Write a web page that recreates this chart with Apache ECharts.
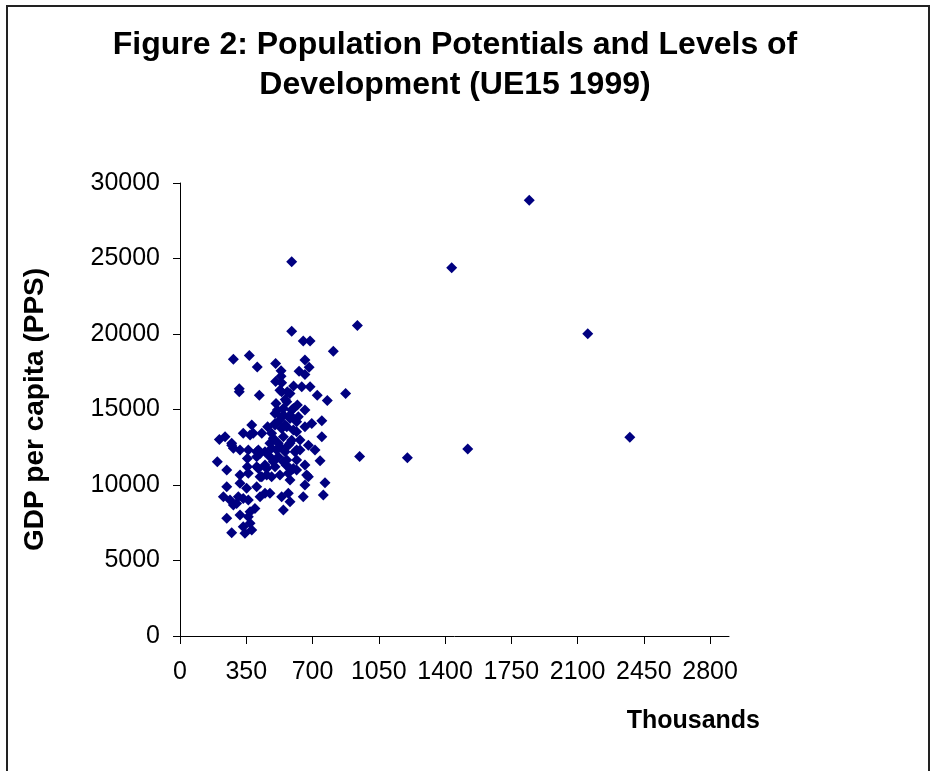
<!DOCTYPE html>
<html>
<head>
<meta charset="utf-8">
<script src="https://cdn.jsdelivr.net/npm/echarts@6/dist/echarts.min.js"></script>
<style>
html,body{margin:0;padding:0;background:#fff;}
#chart{width:936px;height:771px;}
</style>
</head>
<body>
<div id="chart"></div>
<script>
// Population potential (thousands)
var potential = [
1845,1435,590,937,2154,590,651,687,810,282,
366,408,505,660,682,534,629,534,660,505,
537,600,643,687,313,313,875,419,725,581,
778,556,2376,1520,1201,949,537,507,564,620,
660,514,537,581,616,660,696,749,379,463,
502,564,599,432,334,370,238,208,749,475,
519,581,634,678,273,282,361,414,511,555,
616,713,317,197,247,356,423,356,405,449,
493,546,581,616,660,740,317,361,423,458,
528,581,678,660,766,247,317,352,405,229,
308,299,361,423,475,537,572,581,651,757,
546,247,317,361,370,334,273,343,282,264,
396,528,567,599,502,546,581,625,502,537,
387,484,273,405,484,528,572,607,519,564,
599,405,449,414,458,502,432,484,572,449,
334,370,379,669,546,590,528,555,616,493,
546,590,634,560,616,475
];
// GDP per capita (PPS)
var gdp = [
28860,24380,24780,20570,20010,20190,19530,19530,18850,18320,
18580,17810,18050,18270,17790,17560,17540,17210,17320,16860,
16770,16550,16500,16500,16380,16170,16060,15950,15950,16060,
15600,15670,13170,12380,11800,11890,16170,15400,15510,15290,
14960,14960,14520,14630,14190,13860,14080,14250,13970,13860,
14080,13860,13640,13420,13420,13310,13190,13020,13190,12760,
12760,12760,12980,12640,12760,12430,12310,12310,12310,12200,
12310,12310,12310,11540,10990,11760,12090,11210,11210,11320,
11540,11540,11100,10990,11320,11600,10660,10770,10550,10660,
10660,10330,10550,10000,10150,9880,10110,9780,9880,9220,
9220,8780,9000,9220,9450,9220,9450,8890,9220,9330,
8340,7790,8010,7900,7460,7240,6840,6800,8670,9000,
8450,16280,16170,15070,14740,14630,14410,14520,13970,13750,
13420,13420,12640,12200,12430,12530,12640,12200,11870,11650,
11100,11870,12200,11100,11100,11210,10550,10550,10770,9450,
9110,8230,7020,10660,15070,14960,14300,13970,13530,13090,
13200,12970,12310,11320,11650,11870
];
var xTicks = [0,350,700,1050,1400,1750,2100,2450,2800];
var yTicks = [0,5000,10000,15000,20000,25000,30000];

var points = potential.map(function(v,i){ return [v, gdp[i]]; });

var chart = echarts.init(document.getElementById('chart'), null, {renderer:'canvas'});
var FONT = 'Liberation Sans, Arial, sans-serif';
chart.setOption({
  backgroundColor:'#ffffff',
  animation:false,
  title:{
    text:'Figure 2: Population Potentials and Levels of\nDevelopment (UE15 1999)',
    left:450, top:20, textAlign:'center',
    textStyle:{fontFamily:FONT, fontSize:32, fontWeight:'bold', color:'#000', lineHeight:40}
  },
  graphic:[{
    type:'rect', shape:{x:7,y:6,width:922,height:800},
    style:{fill:'none', stroke:'#222', lineWidth:2}, silent:true
  }],
  grid:{left:180, top:183, width:549, height:453, containLabel:false, outerBoundsMode:'none'},
  xAxis:{
    type:'value', min:0, max:2900, interval:350,
    name:'Thousands', nameLocation:'end', nameGap:31,
    nameTextStyle:{fontFamily:FONT, fontSize:25, fontWeight:'bold', color:'#000', align:'right', verticalAlign:'top', padding:[73,0,0,0]},
    axisLine:{show:true, onZero:false, lineStyle:{color:'#000', width:1}},
    axisTick:{show:true, inside:false, length:8, lineStyle:{color:'#000'}, customValues:xTicks},
    axisLabel:{fontFamily:FONT, fontSize:25, color:'#000', margin:24, customValues:xTicks,
      formatter:function(v){ return (v % 350 === 0) ? String(v) : ''; }},
    splitLine:{show:false}
  },
  yAxis:{
    type:'value', min:0, max:30000, interval:5000,
    name:'GDP per capita (PPS)', nameLocation:'middle', nameRotate:90, nameGap:131,
    nameTextStyle:{fontFamily:FONT, fontSize:28, fontWeight:'bold', color:'#000'},
    axisLine:{show:true, lineStyle:{color:'#000', width:1}},
    axisTick:{show:true, inside:false, length:7, lineStyle:{color:'#000'}},
    axisLabel:{fontFamily:FONT, fontSize:25, color:'#000', margin:20,
      formatter:function(v){ return String(v); }},
    splitLine:{show:false}
  },
  series:[{
    type:'scatter', data:points, symbol:'diamond', symbolSize:11,
    itemStyle:{color:'#000080', opacity:1}
  }]
});
</script>
</body>
</html>
